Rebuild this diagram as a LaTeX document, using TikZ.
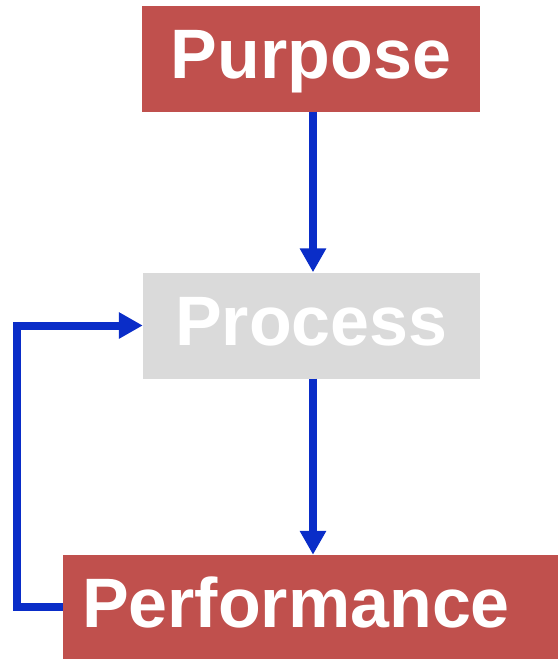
\documentclass[tikz,border=0pt]{standalone}
\usepackage{fontspec}
\setmainfont{Liberation Sans}
\usepackage{tikz}
\usetikzlibrary{positioning, arrows.meta}

\definecolor{boxred}{RGB}{192,80,77}
\definecolor{boxgray}{RGB}{218,218,218}
\definecolor{flowblue}{RGB}{10,45,200}

\tikzset{
  stage/.style = {fill=boxred, text=white, inner sep=0pt,
                  minimum height=106pt, text height=50pt, text depth=10pt,
                  font=\fontsize{70}{84}\selectfont\bfseries},
  flow/.style  = {draw=flowblue, line width=8pt,
                  -{Triangle[length=24pt,width=25pt]}}
}

\begin{document}
\begin{tikzpicture}[x = 1pt, y = -1pt]
\useasboundingbox (0,0) rectangle (558,659);

\node[stage, minimum width=338pt] (purpose) at (311,58.5) {Purpose};
\node[stage, minimum width=337pt, fill=boxgray] (process) at (311.5,325.5) {Process};
\node[stage, minimum height=104pt, inner xsep=19pt, text width=457pt, align=left] (perf) at (310.5,607) {Performance};

\coordinate (axis) at (313,0);
\coordinate (turn) at (17,607);

\draw[flow] (purpose.south -| axis) -- (process.north -| axis);
\draw[flow] (process.south -| axis) -- (perf.north -| axis);
\draw[flow] (perf.west) -- (turn) |- (process.west);
\end{tikzpicture}
\end{document}
